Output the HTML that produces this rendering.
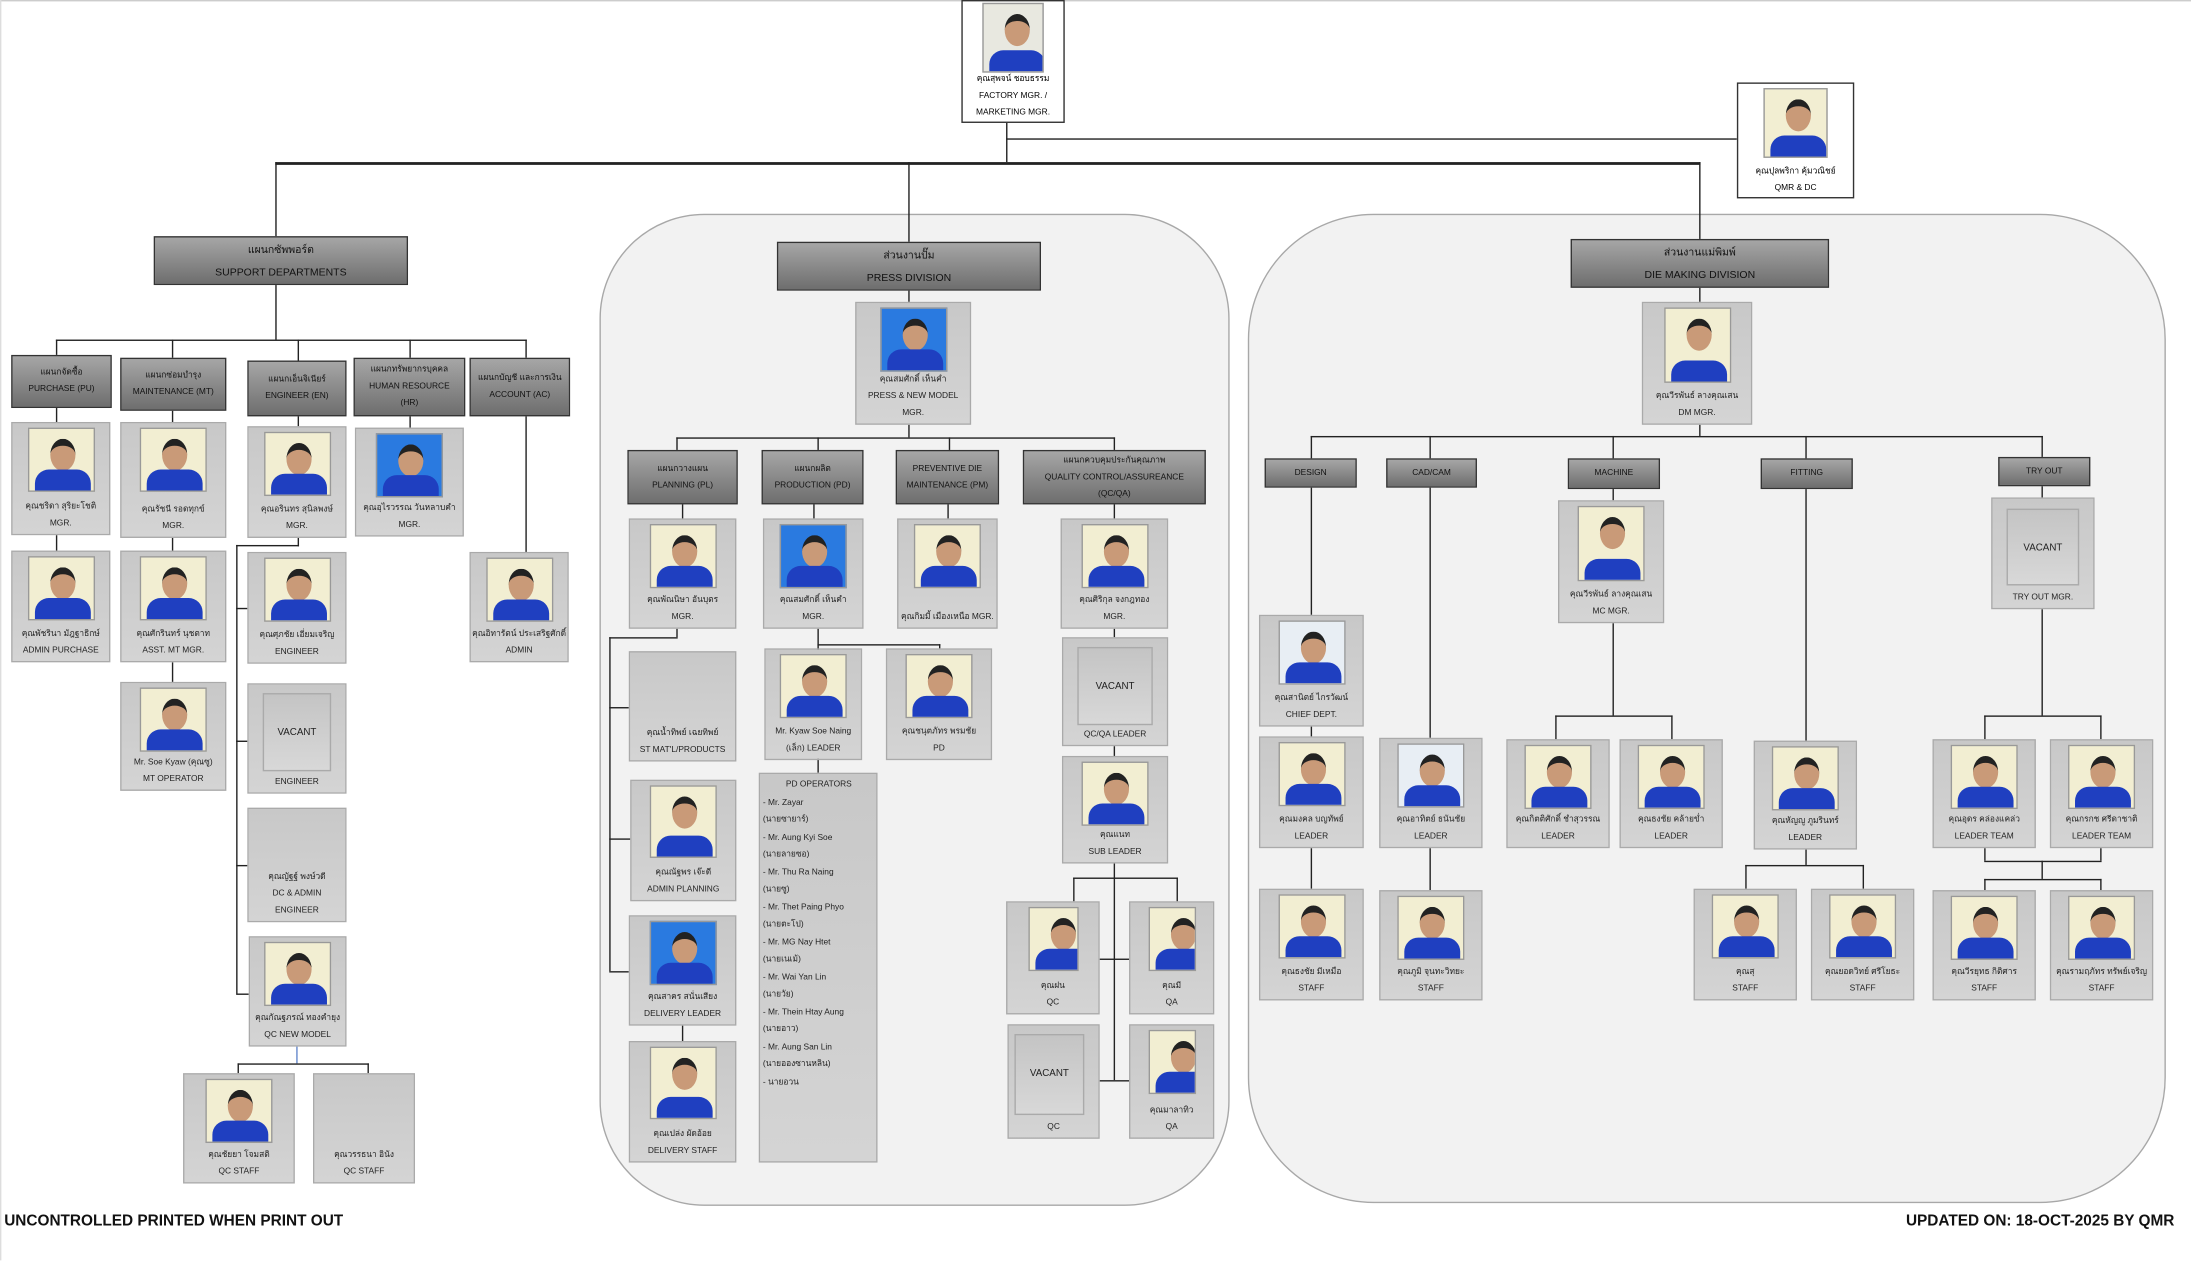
<!DOCTYPE html>
<html><head><meta charset="utf-8">
<style>
html,body{margin:0;padding:0;background:#fff;}
body{width:2191px;height:1261px;overflow:hidden;position:relative;}
#w{position:absolute;left:0;top:0;width:1568px;height:902px;transform:scale(1.39732);transform-origin:0 0;font-family:"Liberation Sans","DejaVu Sans",sans-serif;}
#w div{position:absolute;box-sizing:border-box;}
.h{height:1px;background:#222;}
.v{width:1px;background:#222;}
.panel{background:#f2f2f2;border:1px solid #a8a8a8;}
.hd{background:linear-gradient(#a6a6a6,#6e6e6e);border:1px solid #333;text-align:center;font-size:7.5px;line-height:16px;color:#111;padding-top:1px;}
.dp{background:linear-gradient(#a6a6a6,#6e6e6e);border:1px solid #333;text-align:center;font-size:6px;line-height:12px;color:#111;display:flex;flex-direction:column;justify-content:center;}
.c{background:linear-gradient(#c8c8c8,#d4d4d4);border:1px solid #aaa;text-align:center;font-size:6px;line-height:12px;color:#222;display:flex;flex-direction:column;justify-content:flex-end;padding-bottom:1px;}
.c>span{display:block;white-space:nowrap;position:static;}
.c .p{left:50%;margin-left:-24px;top:3px;width:48px;height:46px;background:#f2eed2;overflow:hidden;border:1px solid #999;}
.c .p.b{background:#2a7ae0;}
.c .p::before{content:"";position:absolute;left:15px;top:7px;width:18px;height:23px;border-radius:50%;background:#c99a78;border-top:5px solid #222;box-sizing:border-box;}
.c .p::after{content:"";position:absolute;left:4px;bottom:0;width:40px;height:15px;border-radius:10px 10px 0 0;background:#1f3fc0;}
.c .vb{left:10px;right:10px;top:6px;height:56px;border:1px solid #aaa;background:linear-gradient(#c4c4c4,#d8d8d8);font-size:7px;line-height:56px;text-align:center;}
.wb{background:#fff;border:1px solid #333;text-align:center;font-size:6px;line-height:12px;display:flex;flex-direction:column;justify-content:flex-end;padding-bottom:0;}
.wb>span{display:block;white-space:nowrap;}
.ops{background:linear-gradient(#c8c8c8,#d4d4d4);border:1px solid #aaa;font-size:6px;line-height:12.5px;color:#222;padding:2px 0 0 2px;}
.ops span{display:block;white-space:nowrap;}
.ft{font-size:11px;font-weight:bold;white-space:nowrap;color:#111;}
</style></head><body>
<div id="w">
<div style="left:0;top:0;width:1568px;height:1px;background:#ccc"></div>
<div style="left:0;top:0;width:1px;height:902px;background:#ddd"></div>
<!-- panels -->
<div class="panel" style="left:429px;top:153px;width:451px;height:710px;border-radius:75px"></div>
<div class="panel" style="left:893px;top:153px;width:657px;height:708px;border-radius:90px"></div>

<!-- lines -->
<div class="v" style="left:720px;top:88px;height:28px"></div>
<div class="h" style="left:720px;top:99px;width:523px"></div>
<div class="h" style="left:197px;top:116px;width:1020px;height:1.5px"></div>
<div class="v" style="left:197px;top:116px;height:53px"></div>
<div class="v" style="left:650px;top:116px;height:57px"></div>
<div class="v" style="left:1216px;top:116px;height:55px"></div>
<div class="v" style="left:197px;top:204px;height:39px"></div>
<div class="h" style="left:40px;top:243px;width:337px"></div>
<div class="v" style="left:40px;top:243px;height:11px"></div>
<div class="v" style="left:123px;top:243px;height:13px"></div>
<div class="v" style="left:213px;top:243px;height:15px"></div>
<div class="v" style="left:293px;top:243px;height:13px"></div>
<div class="v" style="left:376px;top:243px;height:13px"></div>
<div class="v" style="left:40px;top:292px;height:10px"></div>
<div class="v" style="left:40px;top:383px;height:11px"></div>
<div class="v" style="left:123px;top:294px;height:8px"></div>
<div class="v" style="left:123px;top:385px;height:9px"></div>
<div class="v" style="left:123px;top:474px;height:14px"></div>
<div class="v" style="left:213px;top:298px;height:7px"></div>
<div class="v" style="left:293px;top:298px;height:8px"></div>
<div class="v" style="left:376px;top:298px;height:97px"></div>
<div class="v" style="left:213px;top:385px;height:6px"></div>
<div class="h" style="left:169px;top:390px;width:45px"></div>
<div class="v" style="left:169px;top:390px;height:321px"></div>
<div class="h" style="left:169px;top:435px;width:8px"></div>
<div class="h" style="left:169px;top:530px;width:8px"></div>
<div class="h" style="left:169px;top:619px;width:8px"></div>
<div class="h" style="left:169px;top:711px;width:9px"></div>
<div class="v" style="left:212px;top:749px;height:12px;background:#6688cc"></div>
<div class="h" style="left:170px;top:761px;width:94px"></div>
<div class="v" style="left:170px;top:761px;height:7px"></div>
<div class="v" style="left:263px;top:761px;height:7px"></div>
<!-- press -->
<div class="v" style="left:650px;top:208px;height:8px"></div>
<div class="v" style="left:650px;top:304px;height:9px"></div>
<div class="h" style="left:484px;top:313px;width:314px"></div>
<div class="v" style="left:484px;top:313px;height:9px"></div>
<div class="v" style="left:585px;top:313px;height:9px"></div>
<div class="v" style="left:679px;top:313px;height:9px"></div>
<div class="v" style="left:797px;top:313px;height:9px"></div>
<div class="v" style="left:488px;top:361px;height:10px"></div>
<div class="v" style="left:582px;top:361px;height:10px"></div>
<div class="v" style="left:678px;top:361px;height:10px"></div>
<div class="v" style="left:797px;top:361px;height:10px"></div>
<div class="v" style="left:484px;top:450px;height:6px"></div>
<div class="h" style="left:436px;top:456px;width:49px"></div>
<div class="v" style="left:436px;top:456px;height:239px"></div>
<div class="h" style="left:436px;top:506px;width:14px"></div>
<div class="h" style="left:436px;top:600px;width:15px"></div>
<div class="h" style="left:436px;top:695px;width:14px"></div>
<div class="v" style="left:488px;top:734px;height:11px"></div>
<div class="v" style="left:585px;top:450px;height:103px"></div>
<div class="h" style="left:585px;top:461px;width:88px"></div>
<div class="v" style="left:672px;top:461px;height:3px"></div>
<div class="v" style="left:797px;top:450px;height:6px"></div>
<div class="v" style="left:797px;top:534px;height:7px"></div>
<div class="v" style="left:797px;top:618px;height:155px"></div>
<div class="h" style="left:768px;top:628px;width:75px"></div>
<div class="v" style="left:768px;top:628px;height:17px"></div>
<div class="v" style="left:842px;top:628px;height:17px"></div>
<div class="h" style="left:787px;top:686px;width:21px"></div>
<div class="h" style="left:787px;top:773px;width:21px"></div>
<!-- die -->
<div class="v" style="left:1216px;top:206px;height:10px"></div>
<div class="v" style="left:1216px;top:304px;height:8px"></div>
<div class="h" style="left:938px;top:312px;width:524px"></div>
<div class="v" style="left:938px;top:312px;height:16px"></div>
<div class="v" style="left:1023px;top:312px;height:16px"></div>
<div class="v" style="left:1154px;top:312px;height:16px"></div>
<div class="v" style="left:1292px;top:312px;height:16px"></div>
<div class="v" style="left:1461px;top:312px;height:15px"></div>
<div class="v" style="left:938px;top:349px;height:91px"></div>
<div class="v" style="left:938px;top:520px;height:7px"></div>
<div class="v" style="left:938px;top:607px;height:29px"></div>
<div class="v" style="left:1023px;top:349px;height:179px"></div>
<div class="v" style="left:1023px;top:607px;height:30px"></div>
<div class="v" style="left:1154px;top:350px;height:8px"></div>
<div class="v" style="left:1154px;top:446px;height:66px"></div>
<div class="h" style="left:1113px;top:512px;width:84px"></div>
<div class="v" style="left:1113px;top:512px;height:17px"></div>
<div class="v" style="left:1196px;top:512px;height:17px"></div>
<div class="v" style="left:1292px;top:350px;height:180px"></div>
<div class="v" style="left:1292px;top:608px;height:11px"></div>
<div class="h" style="left:1249px;top:619px;width:85px"></div>
<div class="v" style="left:1249px;top:619px;height:17px"></div>
<div class="v" style="left:1333px;top:619px;height:17px"></div>
<div class="v" style="left:1461px;top:348px;height:8px"></div>
<div class="v" style="left:1461px;top:436px;height:76px"></div>
<div class="h" style="left:1420px;top:512px;width:84px"></div>
<div class="v" style="left:1420px;top:512px;height:17px"></div>
<div class="v" style="left:1503px;top:512px;height:17px"></div>
<div class="v" style="left:1420px;top:607px;height:9px"></div>
<div class="v" style="left:1503px;top:607px;height:9px"></div>
<div class="h" style="left:1420px;top:616px;width:84px"></div>
<div class="v" style="left:1461px;top:616px;height:13px"></div>
<div class="h" style="left:1420px;top:629px;width:84px"></div>
<div class="v" style="left:1420px;top:629px;height:8px"></div>
<div class="v" style="left:1503px;top:629px;height:8px"></div>

<!-- top boxes -->
<div class="wb" style="left:688px;top:0;width:74px;height:88px"><div class="c" style="left:0;top:0;width:72px;height:56px;background:none;border:none"><div class="p" style="top:1px;margin-left:-22px;width:44px;height:50px;background:#e8e8e0"></div></div><span>คุณสุพจน์ ชอบธรรม</span><span>FACTORY MGR. /</span><span>MARKETING MGR.</span></div>
<div class="wb" style="left:1243px;top:59px;width:84px;height:83px"><div class="c" style="left:0;top:0;width:82px;height:56px;background:none;border:none"><div class="p" style="top:3px;margin-left:-23px;width:46px;height:50px"></div></div><span>คุณปุลพริกา คุ้มวณิชย์</span><span>QMR &amp; DC</span></div>

<!-- headers -->
<div class="hd" style="left:110px;top:169px;width:182px;height:35px">แผนกซัพพอร์ต<br>SUPPORT DEPARTMENTS</div>
<div class="hd" style="left:556px;top:173px;width:189px;height:35px">ส่วนงานปั๊ม<br>PRESS DIVISION</div>
<div class="hd" style="left:1124px;top:171px;width:185px;height:35px">ส่วนงานแม่พิมพ์<br>DIE MAKING DIVISION</div>

<!-- support depts -->
<div class="dp" style="left:8px;top:254px;width:72px;height:38px">แผนกจัดซื้อ<br>PURCHASE (PU)</div>
<div class="dp" style="left:86px;top:256px;width:76px;height:38px">แผนกซ่อมบำรุง<br>MAINTENANCE (MT)</div>
<div class="dp" style="left:177px;top:258px;width:71px;height:40px">แผนกเอ็นจิเนียร์<br>ENGINEER (EN)</div>
<div class="dp" style="left:253px;top:256px;width:80px;height:42px">แผนกทรัพยากรบุคคล<br>HUMAN RESOURCE<br>(HR)</div>
<div class="dp" style="left:336px;top:256px;width:72px;height:42px">แผนกบัญชี และการเงิน<br>ACCOUNT (AC)</div>

<div class="c" style="left:8px;top:302px;width:71px;height:81px"><div class="p"></div><span>คุณชริดา สุริยะโชติ</span><span>MGR.</span></div>
<div class="c" style="left:8px;top:394px;width:71px;height:80px"><div class="p"></div><span>คุณพัชรินา มัฎฐาธิกษ์</span><span>ADMIN PURCHASE</span></div>
<div class="c" style="left:86px;top:302px;width:76px;height:83px"><div class="p"></div><span>คุณรัชนี รอดทุกข์</span><span>MGR.</span></div>
<div class="c" style="left:86px;top:394px;width:76px;height:80px"><div class="p"></div><span>คุณศักรินทร์ นุชตาท</span><span>ASST. MT MGR.</span></div>
<div class="c" style="left:86px;top:488px;width:76px;height:78px"><div class="p"></div><span>Mr. Soe Kyaw (คุณซู)</span><span>MT OPERATOR</span></div>
<div class="c" style="left:177px;top:305px;width:71px;height:80px"><div class="p"></div><span>คุณอรินทร สุนิลพงษ์</span><span>MGR.</span></div>
<div class="c" style="left:177px;top:395px;width:71px;height:80px"><div class="p"></div><span>คุณศุภชัย เอี่ยมเจริญ</span><span>ENGINEER</span></div>
<div class="c" style="left:177px;top:489px;width:71px;height:79px"><div class="vb">VACANT</div><span>ENGINEER</span></div>
<div class="c" style="left:177px;top:578px;width:71px;height:82px"><span>คุณญัฐฐ์ พงษ์วดี</span><span>DC &amp; ADMIN</span><span>ENGINEER</span></div>
<div class="c" style="left:178px;top:670px;width:70px;height:79px"><div class="p"></div><span>คุณกัณฐภรณ์ ทองคำยุง</span><span>QC NEW MODEL</span></div>
<div class="c" style="left:131px;top:768px;width:80px;height:79px"><div class="p"></div><span>คุณชัยยา โจมสติ</span><span>QC STAFF</span></div>
<div class="c" style="left:224px;top:768px;width:73px;height:79px"><span>คุณวรรธนา อินัง</span><span>QC STAFF</span></div>
<div class="c" style="left:254px;top:306px;width:78px;height:78px"><div class="p b"></div><span>คุณอุไรวรรณ วันหลาบคำ</span><span>MGR.</span></div>
<div class="c" style="left:336px;top:395px;width:71px;height:79px"><div class="p"></div><span>คุณอิทารัตน์ ประเสริฐศักดิ์</span><span>ADMIN</span></div>

<!-- press -->
<div class="c" style="left:612px;top:216px;width:83px;height:88px"><div class="p b"></div><span>คุณสมศักดิ์ เห็นคำ</span><span>PRESS &amp; NEW MODEL</span><span>MGR.</span></div>
<div class="dp" style="left:449px;top:322px;width:79px;height:39px">แผนกวางแผน<br>PLANNING (PL)</div>
<div class="dp" style="left:545px;top:322px;width:73px;height:39px">แผนกผลิต<br>PRODUCTION (PD)</div>
<div class="dp" style="left:641px;top:322px;width:74px;height:39px">PREVENTIVE DIE<br>MAINTENANCE (PM)</div>
<div class="dp" style="left:732px;top:322px;width:131px;height:39px">แผนกควบคุมประกันคุณภาพ<br>QUALITY CONTROL/ASSUREANCE<br>(QC/QA)</div>
<div class="c" style="left:450px;top:371px;width:77px;height:79px"><div class="p"></div><span>คุณพัณนิษา อันบุตร</span><span>MGR.</span></div>
<div class="c" style="left:450px;top:466px;width:77px;height:79px"><span>คุณน้ำทิพย์ เฉยทิพย์</span><span>ST MAT'L/PRODUCTS</span></div>
<div class="c" style="left:451px;top:558px;width:76px;height:87px"><div class="p" style="height:52px"></div><span>คุณณัฐพร เจ๊ะดี</span><span>ADMIN PLANNING</span></div>
<div class="c" style="left:450px;top:655px;width:77px;height:79px"><div class="p b"></div><span>คุณสาคร สนั่นเสียง</span><span>DELIVERY LEADER</span></div>
<div class="c" style="left:450px;top:745px;width:77px;height:87px"><div class="p" style="height:52px"></div><span>คุณเปล่ง ผัดอ้อย</span><span>DELIVERY STAFF</span></div>
<div class="c" style="left:546px;top:371px;width:72px;height:79px"><div class="p b"></div><span>คุณสมศักดิ์ เห็นคำ</span><span>MGR.</span></div>
<div class="c" style="left:547px;top:464px;width:70px;height:80px"><div class="p"></div><span>Mr. Kyaw Soe Naing</span><span>(เล็ก) LEADER</span></div>
<div class="c" style="left:634px;top:464px;width:76px;height:80px"><div class="p"></div><span>คุณชนุตภัทร พรมชัย</span><span>PD</span></div>
<div class="ops" style="left:543px;top:553px;width:85px;height:279px"><span style="text-align:center;width:80px">PD OPERATORS</span><span>- Mr. Zayar</span><span>(นายซายาร์)</span><span>- Mr. Aung Kyi Soe</span><span>(นายลายซอ)</span><span>- Mr. Thu Ra Naing</span><span>(นายซู)</span><span>- Mr. Thet Paing Phyo</span><span>(นายตะโป)</span><span>- Mr. MG Nay Htet</span><span>(นายเนเม้)</span><span>- Mr. Wai Yan Lin</span><span>(นายวัย)</span><span>- Mr. Thein Htay Aung</span><span>(นายอาว)</span><span>- Mr. Aung San Lin</span><span>(นายอองซานหลิน)</span><span>- นายอวน</span></div>
<div class="c" style="left:642px;top:371px;width:72px;height:79px"><div class="p"></div><span>คุณกิมมี้ เมืองเหนือ MGR.</span></div>
<div class="c" style="left:759px;top:371px;width:77px;height:79px"><div class="p"></div><span>คุณศิริกุล จงกฎทอง</span><span>MGR.</span></div>
<div class="c" style="left:760px;top:456px;width:76px;height:78px"><div class="vb">VACANT</div><span>QC/QA LEADER</span></div>
<div class="c" style="left:760px;top:541px;width:76px;height:77px"><div class="p"></div><span>คุณแนท</span><span>SUB LEADER</span></div>
<div class="c" style="left:720px;top:645px;width:67px;height:81px"><div class="p" style="margin-left:-18px;width:36px"></div><span>คุณฝน</span><span>QC</span></div>
<div class="c" style="left:808px;top:645px;width:61px;height:81px"><div class="p" style="margin-left:-17px;width:34px"></div><span>คุณมี</span><span>QA</span></div>
<div class="c" style="left:721px;top:733px;width:66px;height:82px"><div class="vb" style="left:4px;right:10px;height:58px">VACANT</div><span>QC</span></div>
<div class="c" style="left:808px;top:733px;width:61px;height:82px"><div class="p" style="margin-left:-17px;width:34px"></div><span>คุณมาลาทิว</span><span>QA</span></div>

<!-- die -->
<div class="c" style="left:1175px;top:216px;width:79px;height:88px"><div class="p" style="height:54px"></div><span>คุณวีรพันธ์ ลางคุณเสน</span><span>DM MGR.</span></div>
<div class="dp" style="left:905px;top:328px;width:66px;height:21px">DESIGN</div>
<div class="dp" style="left:992px;top:328px;width:65px;height:21px">CAD/CAM</div>
<div class="dp" style="left:1122px;top:328px;width:66px;height:22px">MACHINE</div>
<div class="dp" style="left:1260px;top:328px;width:66px;height:22px">FITTING</div>
<div class="dp" style="left:1430px;top:327px;width:66px;height:21px">TRY OUT</div>
<div class="c" style="left:1115px;top:358px;width:76px;height:88px"><div class="p" style="height:54px"></div><span>คุณวีรพันธ์ ลางคุณเสน</span><span>MC MGR.</span></div>
<div class="c" style="left:1425px;top:356px;width:74px;height:80px"><div class="vb" style="top:7px;height:55px">VACANT</div><span>TRY OUT MGR.</span></div>
<div class="c" style="left:901px;top:440px;width:75px;height:80px"><div class="p" style="background:#e8eef4"></div><span>คุณสานิตย์ ไกรวัฒน์</span><span>CHIEF DEPT.</span></div>
<div class="c" style="left:901px;top:527px;width:75px;height:80px"><div class="p"></div><span>คุณมงคล บญทัพย์</span><span>LEADER</span></div>
<div class="c" style="left:901px;top:636px;width:75px;height:80px"><div class="p"></div><span>คุณธงชัย มีเหมือ</span><span>STAFF</span></div>
<div class="c" style="left:987px;top:528px;width:74px;height:79px"><div class="p" style="background:#e8eef4"></div><span>คุณอาทิตย์ ธนันชัย</span><span>LEADER</span></div>
<div class="c" style="left:987px;top:637px;width:74px;height:79px"><div class="p"></div><span>คุณภูมิ จุนทะวิทยะ</span><span>STAFF</span></div>
<div class="c" style="left:1078px;top:529px;width:74px;height:78px"><div class="p"></div><span>คุณกิตติศักดิ์ ชำสุวรรณ</span><span>LEADER</span></div>
<div class="c" style="left:1159px;top:529px;width:74px;height:78px"><div class="p"></div><span>คุณธงชัย คล้ายข่ำ</span><span>LEADER</span></div>
<div class="c" style="left:1255px;top:530px;width:74px;height:78px"><div class="p"></div><span>คุณหัญญู ภูมรินทร์</span><span>LEADER</span></div>
<div class="c" style="left:1212px;top:636px;width:74px;height:80px"><div class="p"></div><span>คุณสุ</span><span>STAFF</span></div>
<div class="c" style="left:1296px;top:636px;width:74px;height:80px"><div class="p"></div><span>คุณยอดวิทย์ ศรีโยธะ</span><span>STAFF</span></div>
<div class="c" style="left:1383px;top:529px;width:74px;height:78px"><div class="p"></div><span>คุณอุดร คล่องแคล่ว</span><span>LEADER TEAM</span></div>
<div class="c" style="left:1467px;top:529px;width:74px;height:78px"><div class="p"></div><span>คุณกรกช ศรีดาชาติ</span><span>LEADER TEAM</span></div>
<div class="c" style="left:1383px;top:637px;width:74px;height:79px"><div class="p"></div><span>คุณวีรยุทธ กิติศาร</span><span>STAFF</span></div>
<div class="c" style="left:1467px;top:637px;width:74px;height:79px"><div class="p"></div><span>คุณรามฤภัทร ทรัพย์เจริญ</span><span>STAFF</span></div>

<!-- footer -->
<div class="ft" style="left:3px;top:868px">UNCONTROLLED PRINTED WHEN PRINT OUT</div>
<div class="ft" style="left:1364px;top:868px">UPDATED ON: 18-OCT-2025 BY QMR</div>
</div>
</body></html>
